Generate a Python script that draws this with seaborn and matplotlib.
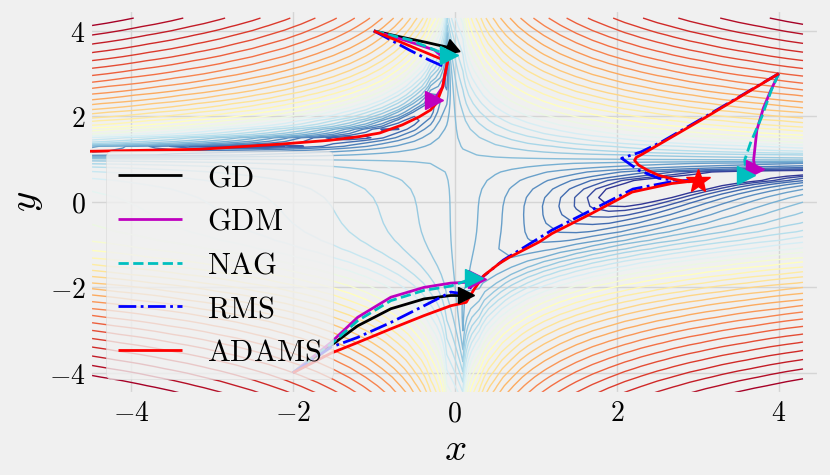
import numpy as np
import matplotlib
matplotlib.use("Agg")
import matplotlib.pyplot as plt
import seaborn as sns
from matplotlib.colors import LogNorm
from matplotlib.ticker import FuncFormatter

plt.style.use("fivethirtyeight")
plt.rcParams["mathtext.fontset"] = "cm"

# start points: top (-1, 4), right (4, 3), bottom (-2, -4)
# GD
gd_top_x = [-1.0, -0.65, -0.35, -0.05]
gd_top_y = [4.0, 3.85, 3.73, 3.6]
gd_bot_x = [-2.0, -1.53, -1.2, -0.79, -0.38, -0.05, 0.14]
gd_bot_y = [-4.0, -3.36, -2.9, -2.5, -2.27, -2.19, -2.19]

# GDM
gdm_top_x = [-1.0, -0.6, -0.25, -0.09, -0.15, -0.26]
gdm_top_y = [4.0, 3.77, 3.55, 3.28, 2.69, 2.38]
gdm_right_x = [4.0, 3.9, 3.81, 3.73, 3.69, 3.71]
gdm_right_y = [3.0, 2.6, 2.19, 1.68, 0.98, 0.76]
gdm_bot_x = [-2.0, -1.53, -1.2, -0.79, -0.38, -0.05, 0.16, 0.27]
gdm_bot_y = [-4.0, -3.29, -2.7, -2.23, -2.0, -1.9, -1.88, -1.8]

# NAG
nag_top_x = [-1.0, -0.56, -0.19, -0.07]
nag_top_y = [4.0, 3.79, 3.51, 3.43]
nag_right_x = [4.0, 3.91, 3.79, 3.65, 3.58, 3.6]
nag_right_y = [3.0, 2.62, 1.99, 1.37, 0.98, 0.63]
nag_bot_x = [-2.0, -1.53, -1.2, -0.79, -0.38, -0.05, 0.24]
nag_bot_y = [-4.0, -3.33, -2.78, -2.31, -2.07, -1.97, -1.78]

# RMS
rms_top_x = [-1.0, -0.56, -0.32, -0.13]
rms_top_y = [4.0, 3.55, 3.32, 3.16]
rms_right_x = [4.0, 3.1, 2.55, 2.3, 2.06, 2.27, 2.52, 2.8, 2.95]
rms_right_y = [3.0, 2.0, 1.4, 1.17, 1.02, 0.74, 0.55, 0.49, 0.5]
rms_bot_x = [-2.0, -1.53, -1.2, -0.79, -0.38, -0.05, 0.11, 0.3, 0.6, 1.2, 1.7, 2.2, 2.7, 2.95]
rms_bot_y = [-4.0, -3.4, -3.17, -2.82, -2.43, -2.11, -2.15, -1.82, -1.36, -0.66, -0.18, 0.3, 0.48, 0.5]

# ADAMS
adam_top_x = [-1.0, -0.09, -0.12, -0.15, -0.23, -0.3, -0.44, -0.65, -0.93, -1.2, -1.55, -2.16, -3.15, -4.6]
adam_top_y = [4.0, 3.28, 3.0, 2.69, 2.3, 2.15, 1.99, 1.8, 1.61, 1.52, 1.44, 1.35, 1.23, 1.18]
adam_right_x = [4.0, 3.1, 2.5, 2.3, 2.24, 2.22, 2.27, 2.38, 2.52, 2.7, 2.89, 3.0]
adam_right_y = [3.0, 1.98, 1.32, 1.1, 1.04, 0.97, 0.86, 0.74, 0.62, 0.53, 0.47, 0.5]
adam_bot_x = [-2.0, -1.53, -1.2, -0.79, -0.38, -0.05, 0.14, 0.24, 0.36, 0.55, 0.67, 1.04, 1.2,
              1.69, 2.19, 2.68, 3.0]
adam_bot_y = [-4.0, -3.54, -3.29, -2.97, -2.66, -2.43, -2.35, -2.04, -1.72, -1.44, -1.3, -0.94, -0.74,
              -0.27, 0.23, 0.43, 0.5]

minimum = (3.0, 0.5)

# beale surface
xs = np.arange(-4.5, 4.5, 0.2)
ys = np.arange(-4.5, 4.5, 0.2)
X, Y = np.meshgrid(xs, ys)
Z = (1.5 - X + X * Y) ** 2 + (2.25 - X + X * Y ** 2) ** 2 + (2.625 - X + X * Y ** 3) ** 2

fig, ax = plt.subplots(figsize=(8.3, 4.75), dpi=100)
fig.subplots_adjust(left=0.109, right=0.987, top=0.980, bottom=0.170)

ax.contour(X, Y, Z, levels=np.logspace(0, 5, 35), norm=LogNorm(), cmap="RdYlBu_r", linewidths=1.0, zorder=2)

lw = 2
paths = [
    ("GD", "k", "-", [(gd_top_x, gd_top_y), (gd_bot_x, gd_bot_y)]),
    ("GDM", "m", "-", [(gdm_top_x, gdm_top_y), (gdm_right_x, gdm_right_y), (gdm_bot_x, gdm_bot_y)]),
    ("NAG", "c", "--", [(nag_top_x, nag_top_y), (nag_right_x, nag_right_y), (nag_bot_x, nag_bot_y)]),
    ("RMS", "b", "-.", [(rms_top_x, rms_top_y), (rms_right_x, rms_right_y), (rms_bot_x, rms_bot_y)]),
    ("ADAMS", "r", "-", [(adam_top_x, adam_top_y), (adam_right_x, adam_right_y), (adam_bot_x, adam_bot_y)]),
]
for name, col, ls, segs in paths:
    for i, (px, py) in enumerate(segs):
        sns.lineplot(x=px, y=py, sort=False, estimator=None, color=col, linestyle=ls,
                     linewidth=lw, label=r"$\mathrm{%s}$" % name if i == 0 else None,
                     ax=ax, zorder=5, legend=False)

# end markers
ax.plot(gd_top_x[-1], gd_top_y[-1], marker=(3, 0, -110), color="k", markersize=13, zorder=6)
ax.plot(gd_bot_x[-1], gd_bot_y[-1], marker=">", color="k", markersize=12, zorder=6)
for mx, my in [(gdm_top_x, gdm_top_y), (gdm_right_x, gdm_right_y), (gdm_bot_x, gdm_bot_y)]:
    ax.plot(mx[-1], my[-1], marker=">", color="m", markersize=13, zorder=6)
for mx, my in [(nag_top_x, nag_top_y), (nag_right_x, nag_right_y), (nag_bot_x, nag_bot_y)]:
    ax.plot(mx[-1], my[-1], marker=">", color="c", markersize=13, zorder=6)
ax.plot(*minimum, marker="*", color="r", markersize=18, zorder=7)

ax.set_xlim(-4.5, 4.5)
ax.set_ylim(-4.5, 4.5)
ax.set_xticks([-4, -2, 0, 2, 4])
ax.set_yticks([-4, -2, 0, 2, 4])
fmt = FuncFormatter(lambda v, p: r"$%d$" % v)
ax.xaxis.set_major_formatter(fmt)
ax.yaxis.set_major_formatter(fmt)
ax.tick_params(labelsize=20)
ax.set_xlabel(r"$x$", fontsize=28, labelpad=2)
ax.set_ylabel(r"$y$", fontsize=28, labelpad=3)
ax.grid(True, color="#d5d5d5", linewidth=1.0, zorder=0)
ax.set_axisbelow(True)

leg = ax.legend(loc="lower left", fontsize=22, handlelength=2.1, framealpha=0.8,
                borderaxespad=0.5, labelspacing=0.48)
leg.get_frame().set_edgecolor("#d8d8d8")
leg.set_zorder(10)

fig.savefig("out.png", dpi=100, facecolor=fig.get_facecolor())
